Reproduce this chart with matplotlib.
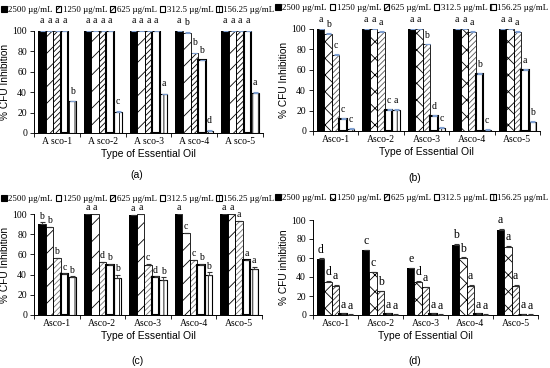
import matplotlib
matplotlib.use("Agg")
import matplotlib.pyplot as plt
import numpy as np

plt.rcParams['hatch.linewidth'] = 0.6

legend_labels = ["2500 µg/mL", "1250 µg/mL", "625 µg/mL", "312.5 µg/mL", "156.25 µg/mL"]

groups_a = ["A sco-1", "A sco-2", "A sco-3", "A sco-4", "A sco-5"]
groups_b = ["Asco-1", "Asco-2", "Asco-3", "Asco-4", "Asco-5"]

# panel (a)
a_2500 = [100, 100, 100, 100, 100]
a_1250 = [100, 100, 100, 98, 100]
a_625 = [100, 100, 100, 78, 100]
a_312 = [100, 100, 100, 71, 100]
a_156 = [31, 21, 38, 2, 39]
a_letters = [["a", "a", "a", "a", "a"], ["a", "a", "a", "b", "a"], ["a", "a", "a", "b", "a"],
             ["a", "a", "a", "b", "a"], ["b", "c", "a", "d", "a"]]

# panel (b)
b_2500 = [100, 100, 100, 100, 100]
b_1250 = [95, 100, 100, 100, 100]
b_625 = [75, 97, 85, 97, 97]
b_312 = [12, 21, 15, 56, 60]
b_156 = [2, 21, 3, 1, 9]
b_letters = [["a", "a", "a", "a", "a"], ["b", "a", "a", "a", "a"], ["c", "a", "b", "a", "a"],
             ["c", "c", "d", "b", "a"], ["c", "a", "c", "c", "b"]]

# panel (c)
c_2500 = [90, 100, 99, 100, 100]
c_1250 = [87, 100, 100, 81, 100]
c_625 = [56, 52, 50, 54, 93]
c_312 = [41, 50, 38, 50, 54]
c_156 = [38, 37, 35, 40, 46]
c_err = [[2, 0.5, 0.5, 0.5, 0.5], [0.5, 0.5, 0.5, 0.5, 0.5], [0.5, 0.5, 0.5, 0.5, 0.5],
         [0.5, 0.5, 0.5, 0.5, 0.5], [0.5, 3, 2.5, 2.5, 2]]
c_letters = [["b", "a", "a", "a", "a"], ["b", "a", "a", "c", "a"], ["b", "d", "c", "c", "a"],
             ["c", "b", "d", "b", "a"], ["b", "b", "b", "b", "a"]]

# panel (d)
d_2500 = [59, 68, 49, 74, 90]
d_1250 = [35, 45, 35, 60, 72]
d_625 = [31, 25, 29, 31, 31]
d_312 = [1, 1, 1, 1, 0.5]
d_156 = [0, 0, 0, 0, 0]
d_letters = [["d", "c", "e", "b", "a"], ["d", "c", "d", "b", "a"], ["a", "b", "a", "a", "a"],
             ["a", "a", "a", "a", "a"], ["a", "a", "a", "a", "a"]]

SERIF = "Liberation Serif"
SANS = "Liberation Sans"

fig = plt.figure(figsize=(5.5, 3.68), dpi=100)
W, H = 550.0, 368.0


def make_ax(left, right, top, bottom):
    return fig.add_axes([left / W, 1 - bottom / H, (right - left) / W, (bottom - top) / H])


def draw_panel(ax, series, letters, groups, styles, ylabel, errs, errcolor, legend_y, caption, cap_xy,
               letter_size=7, letter_off=4):
    n = len(groups)
    x = np.arange(n)
    w = 0.165
    handles = []
    for j, vals in enumerate(series):
        st = styles[j]
        pos = x + (j - 2) * w
        ax.bar(pos, vals, w, color=st['fc'], edgecolor=st['hc'], hatch=st['hatch'], linewidth=0, zorder=2)
        ax.bar(pos, vals, w, fill=False, edgecolor='black', linewidth=st['lw'], zorder=3)
        e = errs[j] if errs is not None else [0.6] * n
        ax.errorbar(pos, vals, yerr=[[0] * n, e], fmt='none', ecolor=errcolor, elinewidth=0.6,
                    capsize=1.8, capthick=0.8, zorder=4)
        for k in range(n):
            ax.text(pos[k], vals[k] + e[k] + letter_off, letters[j][k], ha='center', va='bottom',
                    fontsize=letter_size, family=SERIF, zorder=5, clip_on=False)
        h = plt.Rectangle((0, 0), 1, 1, facecolor=st['fc'], edgecolor='black', hatch=st['hatch'],
                          linewidth=0.8)
        handles.append(h)
    ax.set_xlim(-0.5, n - 0.5)
    ax.set_ylim(0, 100)
    ax.set_yticks(range(0, 101, 20))
    ax.set_xticks(x)
    ax.set_xticklabels(groups, family=SERIF, fontsize=7)
    ax.set_xticks(np.arange(-0.5, n, 1.0), minor=True)
    ax.tick_params(axis='x', which='major', length=0, pad=3)
    ax.tick_params(axis='x', which='minor', length=3, width=0.6, direction='out')
    ax.tick_params(axis='y', length=3, width=0.6, labelsize=7, pad=2)
    for lab in ax.get_yticklabels():
        lab.set_family(SERIF)
    for s in ['top', 'right']:
        ax.spines[s].set_visible(False)
    for s in ['left', 'bottom']:
        ax.spines[s].set_linewidth(0.7)
    ax.set_ylabel(ylabel, family=SANS, fontsize=7.3, labelpad=2)
    ax.set_xlabel("Type of Essential Oil", family=SANS, fontsize=7.5, labelpad=2)
    fig.legend(handles, legend_labels, loc='center', bbox_to_anchor=legend_y, ncol=5,
               frameon=False, prop={'family': SERIF, 'size': 6.4}, handlelength=0.6, handleheight=0.6,
               handletextpad=0.2, columnspacing=0.3, borderaxespad=0, borderpad=0)
    fig.text(cap_xy[0] / W, 1 - cap_xy[1] / H, caption, ha='center', va='center', family=SANS, fontsize=7.5)


style_a = [
    dict(fc='black', hc='black', hatch=None, lw=0.6),
    dict(fc='white', hc='black', hatch='//', lw=0.6),
    dict(fc='white', hc='black', hatch='//////', lw=0.6),
    dict(fc='white', hc='black', hatch=None, lw=1.5),
    dict(fc='white', hc='black', hatch='|||', lw=0.8),
]
style_b = [
    dict(fc='black', hc='black', hatch=None, lw=0.6),
    dict(fc='white', hc='black', hatch='xx', lw=0.6),
    dict(fc='white', hc='#555555', hatch='//////', lw=0.6),
    dict(fc='white', hc='black', hatch=None, lw=1.5),
    dict(fc='white', hc='black', hatch='|||', lw=0.8),
]
style_c = [
    dict(fc='black', hc='black', hatch=None, lw=0.6),
    dict(fc='white', hc='black', hatch='//', lw=0.6),
    dict(fc='white', hc='#777777', hatch='//////', lw=0.6),
    dict(fc='white', hc='black', hatch=None, lw=1.5),
    dict(fc='white', hc='black', hatch='|||', lw=0.8),
]
style_d = [
    dict(fc='black', hc='black', hatch=None, lw=0.6),
    dict(fc='white', hc='black', hatch='xx', lw=0.6),
    dict(fc='white', hc='#333333', hatch='//////', lw=0.6),
    dict(fc='white', hc='black', hatch=None, lw=1.5),
    dict(fc='white', hc='black', hatch='||||', lw=0.8),
]

ax_a = make_ax(34, 263, 30.7, 133)
draw_panel(ax_a, [a_2500, a_1250, a_625, a_312, a_156], a_letters, groups_a, style_a,
           "% CFU Inhibition", None, '#7f9fd0', (138 / W, 1 - 10 / H), "(a)", (137, 175),
           letter_off=5)

ax_b = make_ax(313, 540, 29, 131)
draw_panel(ax_b, [b_2500, b_1250, b_625, b_312, b_156], b_letters, groups_b, style_b,
           "% CFU Inhibition", None, '#7f9fd0', (412 / W, 1 - 8 / H), "(b)", (415, 178))

ax_c = make_ax(34, 262, 214, 315)
draw_panel(ax_c, [c_2500, c_1250, c_625, c_312, c_156], c_letters, groups_b, style_c,
           "% CFU Inhibition", c_err, '#333333', (138 / W, 1 - 199 / H), "(c)", (137, 361),
           letter_off=1.5)

ax_d = make_ax(313, 538, 220, 315)
draw_panel(ax_d, [d_2500, d_1250, d_625, d_312, d_156], d_letters, groups_b, style_d,
           "% CFU inhibition", None, '#333333', (412 / W, 1 - 198 / H), "(d)", (415, 361),
           letter_size=8.5, letter_off=3)

fig.savefig("out.png", dpi=100)
